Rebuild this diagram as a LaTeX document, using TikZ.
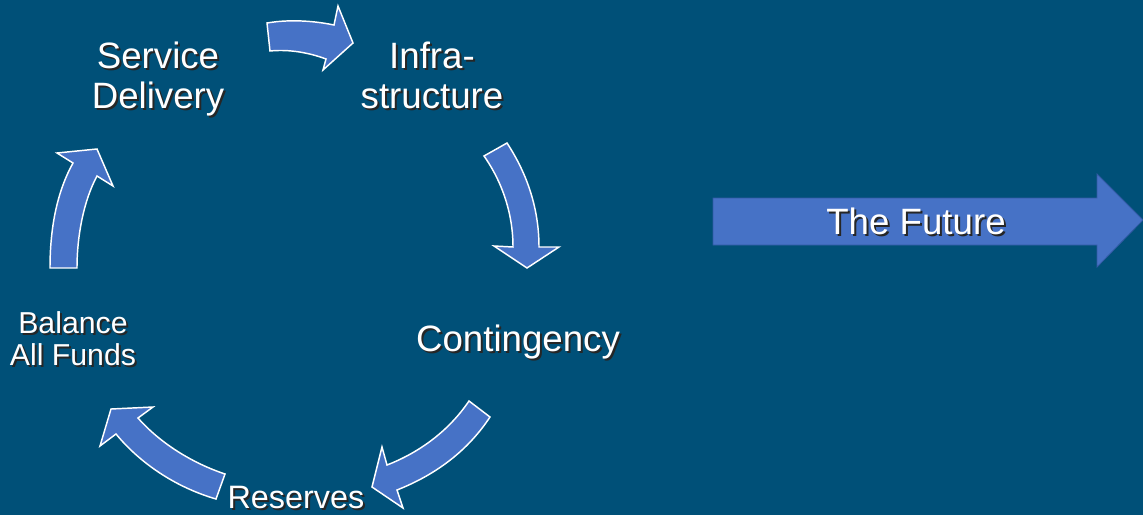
\documentclass[tikz,border=0pt]{standalone}
\usepackage{fontspec}
\setmainfont{Liberation Sans}
\definecolor{bg}{RGB}{0,80,120}
\definecolor{arr}{RGB}{70,114,198}
\definecolor{arrd}{RGB}{50,90,165}
\newcommand\shd[1]{\leavevmode\rlap{\kern1.5pt\raisebox{-1.5pt}{\color{black!85}#1}}#1}
\begin{document}
\begin{tikzpicture}[x=0.75pt,y=-0.75pt,
  curv/.style={fill=arr, draw=white, line width=1.1pt, line join=miter},
  lbl/.style={text=white, align=center, anchor=base, inner sep=0pt},
  big/.style={font=\fontsize{27.5}{29.3}\selectfont},
  small/.style={font=\fontsize{22.7}{23.3}\selectfont}]
\fill[bg] (0,0) rectangle (1143,515);
\useasboundingbox (0,0) rectangle (1143,515);
% cycle arrows
\draw[curv] (267,23) .. controls (290,19) and (315,21) .. (334,25) -- (338,6) -- (353,43) -- (323,70) -- (326,59) .. controls (310,53) and (290,49) .. (270,51) -- cycle;
\draw[curv] (484,156) -- (507,143) .. controls (528,175) and (539,210) .. (539,247) -- (559,247) -- (527,268) -- (494,246) -- (513,247) .. controls (513,215) and (503,183) .. (484,156) -- cycle;
\draw[curv] (469,401) -- (490,417) .. controls (465,455) and (430,477) .. (397,490) -- (403,508) -- (372,487) -- (382,447) -- (387,465) .. controls (418,453) and (448,432) .. (469,401) -- cycle;
\draw[curv] (225,474) -- (216,499) .. controls (175,487) and (140,463) .. (116,434) -- (100,446) -- (111,409) -- (153,407) -- (138,418) .. controls (160,443) and (192,463) .. (225,474) -- cycle;
\draw[curv] (50,268) .. controls (50,225) and (58,190) .. (73,163) -- (57,153) -- (97,149) -- (113,186) -- (97,176) .. controls (84,200) and (77,235) .. (77,268) -- cycle;
% future arrow
\draw[fill=arr, draw=arrd, line width=0.6pt] (713,198) -- (1097,198) -- (1097,174) -- (1143,220) -- (1097,267) -- (1097,245) -- (713,245) -- cycle;
% labels
\node[lbl,big] (service) at (158,108) {\shd{Service}\\\shd{Delivery}};
\node[lbl,big] (infra) at (432,108) {\shd{Infra-}\\\shd{structure}};
\node[lbl,big] (cont) at (518,351) {\shd{Contingency}};
\node[lbl,font=\fontsize{24.3}{25}\selectfont] (res) at (296,508) {\shd{Reserves}};
\node[lbl,small] (bal) at (73,365) {\shd{Balance}\\\shd{All Funds}};
\node[lbl,big] (future) at (916,234) {\shd{The Future}};
\end{tikzpicture}
\end{document}
